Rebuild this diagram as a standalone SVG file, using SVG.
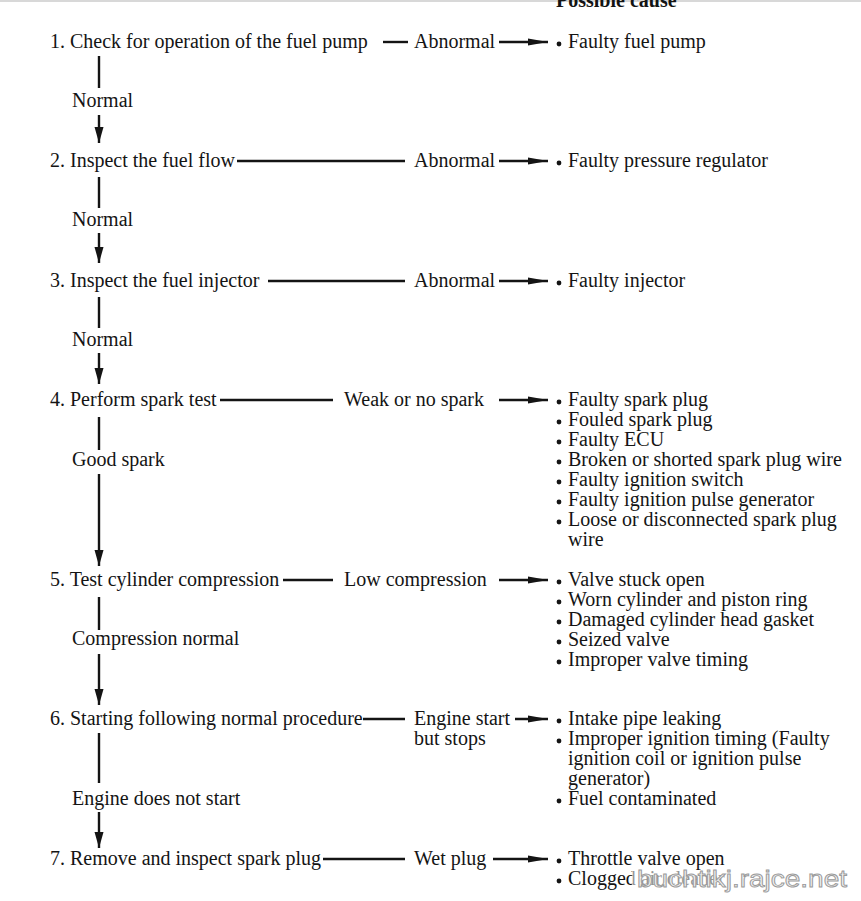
<svg xmlns="http://www.w3.org/2000/svg" width="861" height="901" viewBox="0 0 861 901">
<style>
text{font-family:"Liberation Serif","Times New Roman",serif;font-size:20px;fill:#141414}
.hdr{font-weight:bold;font-size:20px}
.ln{stroke:#141414;stroke-width:2.4;fill:none}
.b{fill:#141414}
.wm{font-family:"Liberation Sans",Arial,sans-serif;font-size:24px;fill:#f2f2f2;stroke:#9a9a9a;stroke-width:0.9}
</style>
<defs>
<marker id="ah" viewBox="0 0 20 8" refX="20" refY="4" markerWidth="20" markerHeight="8" markerUnits="userSpaceOnUse" orient="auto">
<path d="M0,0.5 L20,4 L0,7.5 Z" fill="#141414"/>
</marker>
<marker id="av" viewBox="0 0 16 10" refX="16" refY="5" markerWidth="16" markerHeight="10" markerUnits="userSpaceOnUse" orient="auto">
<path d="M0,0.5 L16,5 L0,9.5 Z" fill="#141414"/>
</marker>
</defs>
<rect width="861" height="901" fill="#fff"/>
<line x1="0" y1="1" x2="861" y2="1" stroke="#d8d8d8" stroke-width="2"/>
<text class="hdr" x="556" y="7">Possible cause</text>

<g id="step1"><text x="50" y="48">1. Check for operation of the fuel pump</text></g>
<g id="step2"><text x="50" y="167">2. Inspect the fuel flow</text></g>
<g id="step3"><text x="50" y="287">3. Inspect the fuel injector</text></g>
<g id="step4"><text x="50" y="406">4. Perform spark test</text></g>
<g id="step5"><text x="50" y="586">5. Test cylinder compression</text></g>
<g id="step6"><text x="50" y="725">6. Starting following normal procedure</text></g>
<g id="step7"><text x="50" y="865">7. Remove and inspect spark plug</text></g>

<g id="labels">
<text x="72" y="107">Normal</text>
<text x="72" y="226">Normal</text>
<text x="72" y="346">Normal</text>
<text x="72" y="466">Good spark</text>
<text x="72" y="645">Compression normal</text>
<text x="72" y="805">Engine does not start</text>
<text x="414" y="48">Abnormal</text>
<text x="414" y="167">Abnormal</text>
<text x="414" y="287">Abnormal</text>
<text x="344" y="406">Weak or no spark</text>
<text x="344" y="586">Low compression</text>
<text x="414" y="725">Engine start</text>
<text x="414" y="745">but stops</text>
<text x="414" y="865">Wet plug</text>
</g>

<g id="cause1"><circle class="b" cx="559" cy="44" r="2.4"/><text x="568" y="48">Faulty fuel pump</text></g>
<g id="cause2"><circle class="b" cx="559" cy="163" r="2.4"/><text x="568" y="167">Faulty pressure regulator</text></g>
<g id="cause3"><circle class="b" cx="559" cy="283" r="2.4"/><text x="568" y="287">Faulty injector</text></g>
<g id="cause4">
<circle class="b" cx="559" cy="402" r="2.4"/><text x="568" y="406">Faulty spark plug</text>
<circle class="b" cx="559" cy="422" r="2.4"/><text x="568" y="426">Fouled spark plug</text>
<circle class="b" cx="559" cy="442" r="2.4"/><text x="568" y="446">Faulty ECU</text>
<circle class="b" cx="559" cy="462" r="2.4"/><text x="568" y="466">Broken or shorted spark plug wire</text>
<circle class="b" cx="559" cy="482" r="2.4"/><text x="568" y="486">Faulty ignition switch</text>
<circle class="b" cx="559" cy="502" r="2.4"/><text x="568" y="506">Faulty ignition pulse generator</text>
<circle class="b" cx="559" cy="522" r="2.4"/><text x="568" y="526">Loose or disconnected spark plug</text>
<text x="568" y="546">wire</text>
</g>
<g id="cause5">
<circle class="b" cx="559" cy="582" r="2.4"/><text x="568" y="586">Valve stuck open</text>
<circle class="b" cx="559" cy="602" r="2.4"/><text x="568" y="606">Worn cylinder and piston ring</text>
<circle class="b" cx="559" cy="622" r="2.4"/><text x="568" y="626">Damaged cylinder head gasket</text>
<circle class="b" cx="559" cy="642" r="2.4"/><text x="568" y="646">Seized valve</text>
<circle class="b" cx="559" cy="662" r="2.4"/><text x="568" y="666">Improper valve timing</text>
</g>
<g id="cause6">
<circle class="b" cx="559" cy="721" r="2.4"/><text x="568" y="725">Intake pipe leaking</text>
<circle class="b" cx="559" cy="741" r="2.4"/><text x="568" y="745">Improper ignition timing (Faulty</text>
<text x="568" y="765">ignition coil or ignition pulse</text>
<text x="568" y="785">generator)</text>
<circle class="b" cx="559" cy="801" r="2.4"/><text x="568" y="805">Fuel contaminated</text>
</g>
<g id="cause7">
<circle class="b" cx="559" cy="861" r="2.4"/><text x="568" y="865">Throttle valve open</text>
<circle class="b" cx="559" cy="881" r="2.4"/><text x="568" y="885">Clogged air cleaner</text>
</g>

<g id="connectors">
<line class="ln" x1="99" y1="56" x2="99" y2="88"/>
<line class="ln" x1="99" y1="115" x2="99" y2="143" marker-end="url(#av)"/>
<line class="ln" x1="99" y1="177" x2="99" y2="208"/>
<line class="ln" x1="99" y1="233" x2="99" y2="263" marker-end="url(#av)"/>
<line class="ln" x1="99" y1="297" x2="99" y2="328"/>
<line class="ln" x1="99" y1="353" x2="99" y2="384" marker-end="url(#av)"/>
<line class="ln" x1="99" y1="417" x2="99" y2="450"/>
<line class="ln" x1="99" y1="474" x2="99" y2="566" marker-end="url(#av)"/>
<line class="ln" x1="99" y1="597" x2="99" y2="630"/>
<line class="ln" x1="99" y1="654" x2="99" y2="705" marker-end="url(#av)"/>
<line class="ln" x1="99" y1="733" x2="99" y2="783"/>
<line class="ln" x1="99" y1="812" x2="99" y2="848" marker-end="url(#av)"/>

<line class="ln" x1="383" y1="42" x2="408" y2="42"/>
<line class="ln" x1="237" y1="161" x2="405" y2="161"/>
<line class="ln" x1="268" y1="281" x2="405" y2="281"/>
<line class="ln" x1="220" y1="400" x2="333" y2="400"/>
<line class="ln" x1="283" y1="580" x2="333" y2="580"/>
<line class="ln" x1="363" y1="719" x2="405" y2="719"/>
<line class="ln" x1="323" y1="859" x2="405" y2="859"/>

<line class="ln" x1="499" y1="42" x2="548" y2="42" marker-end="url(#ah)"/>
<line class="ln" x1="499" y1="161" x2="548" y2="161" marker-end="url(#ah)"/>
<line class="ln" x1="499" y1="281" x2="548" y2="281" marker-end="url(#ah)"/>
<line class="ln" x1="499" y1="400" x2="548" y2="400" marker-end="url(#ah)"/>
<line class="ln" x1="499" y1="580" x2="548" y2="580" marker-end="url(#ah)"/>
<line class="ln" x1="515" y1="719" x2="548" y2="719" marker-end="url(#ah)"/>
<line class="ln" x1="493" y1="859" x2="548" y2="859" marker-end="url(#ah)"/>
</g>
<rect x="632" y="870" width="224" height="24" fill="#fff" opacity="0.55"/>
<text class="wm" x="637" y="887" textLength="210" lengthAdjust="spacingAndGlyphs">buchtikj.rajce.net</text>
</svg>
